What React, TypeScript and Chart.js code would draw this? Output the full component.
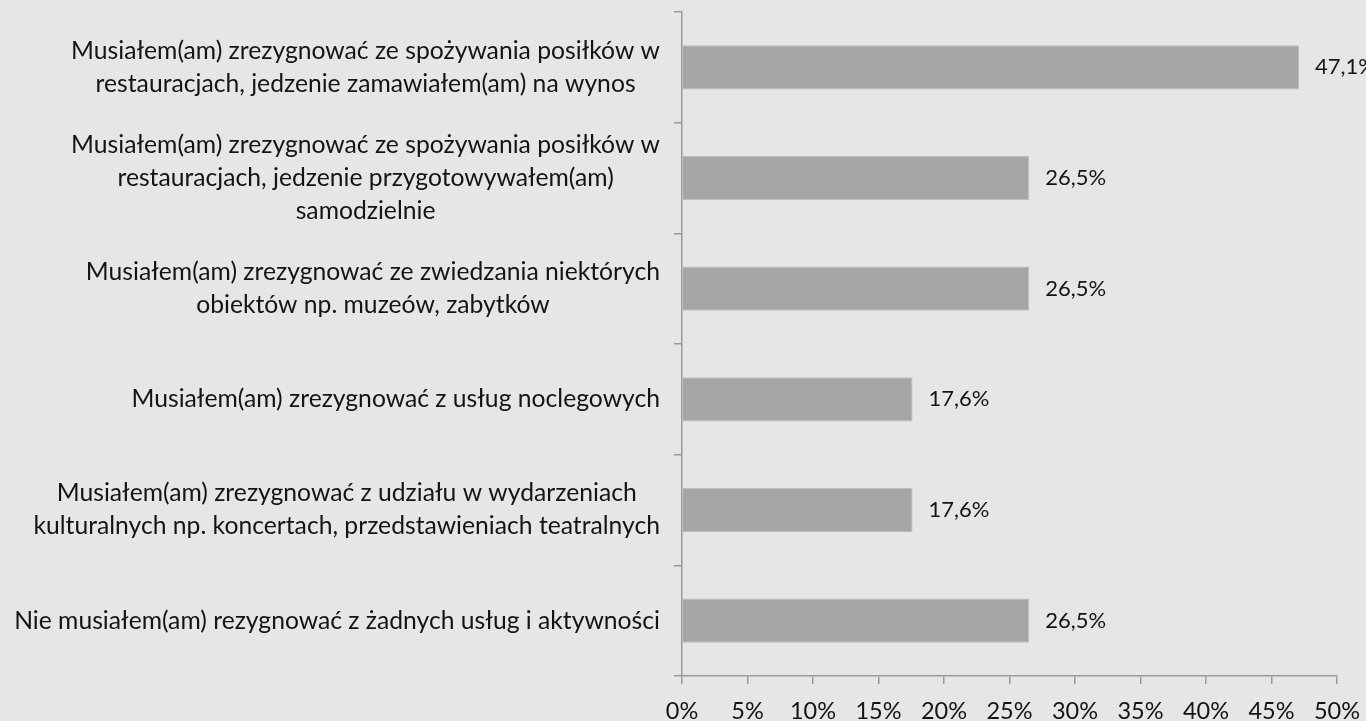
import React, { useEffect, useRef } from "react";
import { Chart, registerables } from "chart.js";

Chart.register(...registerables);

const categoryLabels: string[][] = [
  ["Musiałem(am) zrezygnować ze spożywania posiłków w", "restauracjach, jedzenie zamawiałem(am) na wynos"],
  ["Musiałem(am) zrezygnować ze spożywania posiłków w", "restauracjach, jedzenie przygotowywałem(am)", "samodzielnie"],
  ["Musiałem(am) zrezygnować ze zwiedzania niektórych", "obiektów np. muzeów, zabytków"],
  ["Musiałem(am) zrezygnować z usług noclegowych"],
  ["Musiałem(am) zrezygnować z udziału w wydarzeniach", "kulturalnych np. koncertach, przedstawieniach teatralnych"],
  ["Nie musiałem(am) rezygnować z żadnych usług i aktywności"],
];
const seriesValues: number[] = [47.1, 26.5, 26.5, 17.6, 17.6, 26.5];
const xTickValues: number[] = [0, 5, 10, 15, 20, 25, 30, 35, 40, 45, 50];

const FONT = "Lato";
const LABEL_SIZE = 24.7;
const NUM_SIZE = 22;
const TICK_SIZE = 23.5;
const TEXT = "#141414";
const AXIS = "#9a9a9a";
const BG = "#e6e6e6";

const labelPlugin = {
  id: "customLabels",
  afterDraw(chart: any) {
    const ctx = chart.ctx;
    const y = chart.scales.y;
    const meta = chart.getDatasetMeta(0);
    ctx.save();
    ctx.fillStyle = TEXT;
    ctx.textBaseline = "middle";
    // category labels
    ctx.font = `${LABEL_SIZE}px ${FONT}`;
    const lineH = 33;
    const rightEdge = chart.chartArea.left - 22;
    categoryLabels.forEach((lines, i) => {
      const cy = y.getPixelForValue(i);
      const maxW = Math.max(...lines.map((l) => ctx.measureText(l).width));
      const cx = rightEdge - maxW / 2;
      ctx.textAlign = "center";
      lines.forEach((l, j) => {
        const ly = cy + (j - (lines.length - 1) / 2) * lineH;
        ctx.fillText(l, cx, ly);
      });
    });
    // data labels
    ctx.font = `${NUM_SIZE}px ${FONT}`;
    ctx.textAlign = "left";
    meta.data.forEach((bar: any, i: number) => {
      const txt = seriesValues[i].toFixed(1).replace(".", ",") + "%";
      ctx.fillText(txt, bar.x + 16, bar.y);
    });
    ctx.restore();
  },
};

const bgPlugin = {
  id: "bg",
  beforeDraw(chart: any) {
    const ctx = chart.ctx;
    ctx.save();
    ctx.fillStyle = BG;
    ctx.fillRect(0, 0, chart.width, chart.height);
    ctx.restore();
  },
};

export default function App() {
  const ref = useRef<HTMLCanvasElement>(null);
  useEffect(() => {
    document.body.style.margin = "0";
    document.body.style.background = BG;
    const chart = new Chart(ref.current!, {
      type: "bar",
      data: {
        labels: categoryLabels.map((l) => l.join(" ")),
        datasets: [
          {
            data: seriesValues,
            backgroundColor: "#a5a5a5",
            borderColor: "#bdbdbd",
            borderWidth: 1,
            categoryPercentage: 1,
            barPercentage: 0.4,
          },
        ],
      },
      options: {
        indexAxis: "y",
        animation: false,
        responsive: false,
        maintainAspectRatio: false,
        layout: { padding: { top: 12, right: 29, left: 0, bottom: 0 } },
        plugins: { legend: { display: false }, tooltip: { enabled: false } },
        scales: {
          x: {
            min: 0,
            max: 50,
            afterBuildTicks(scale: any) {
              scale.ticks = xTickValues.map((v) => ({ value: v }));
            },
            afterFit(scale: any) {
              scale.height = 45;
              scale.paddingRight = 0;
              scale.paddingLeft = 0;
            },
            ticks: {
              callback: (v: any) => v + "%",
              font: { family: FONT, size: TICK_SIZE },
              color: TEXT,
              padding: 13,
              maxRotation: 0,
              autoSkip: false,
            },
            grid: {
              display: true,
              drawOnChartArea: false,
              drawTicks: true,
              tickLength: 8,
              color: AXIS,
              lineWidth: 1.5,
            },
            border: { display: true, color: AXIS, width: 1.5 },
          },
          y: {
            afterFit(scale: any) {
              scale.width = 682;
            },
            ticks: { display: false },
            grid: {
              display: true,
              offset: true,
              drawOnChartArea: false,
              drawTicks: true,
              tickLength: 8,
              color: AXIS,
              lineWidth: 1.5,
            },
            border: { display: true, color: AXIS, width: 1.5 },
          },
        },
      },
      plugins: [bgPlugin, labelPlugin],
    });
    return () => chart.destroy();
  }, []);
  return <canvas ref={ref} width={1366} height={721} style={{ display: "block" }} />;
}
